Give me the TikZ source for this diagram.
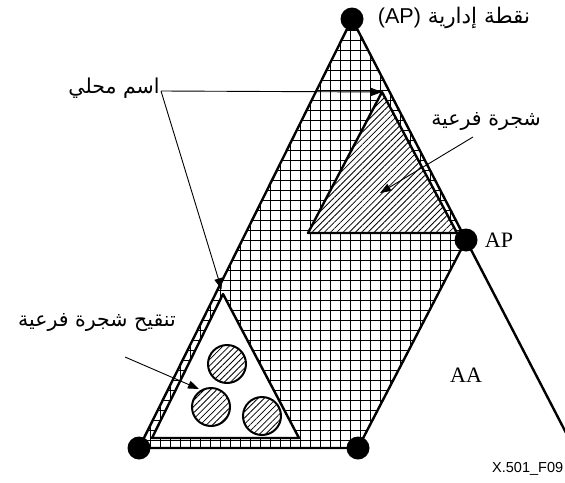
\documentclass[tikz,border=0pt]{standalone}
\usepackage{fontspec}
\setmainfont{Liberation Serif}
\newfontfamily\arabicfont[Script=Arabic]{DejaVu Sans}
\newfontfamily\sansf{Liberation Sans}
\TeXXeTstate=1
\usetikzlibrary{patterns.meta,arrows.meta}
\tikzset{
  thickline/.style={line width=2.4pt, line join=round},
  dotnode/.style={circle, fill=black, inner sep=0pt, minimum size=23pt},
  arr/.style={line width=0.9pt, -{Triangle[length=11pt,width=8pt]}},
  gridline/.style={line width=1.3pt},
  diag hatch/.style={pattern={Lines[angle=45,distance=4.4pt,line width=0.8pt]}},
  ring/.style={circle, draw, line width=2pt, minimum size=38pt, inner sep=0pt, diag hatch},
  albl/.style={inner sep=0pt, font=\arabicfont\fontsize{20.5}{24}\selectfont},
  serifl/.style={inner sep=0pt, font=\fontsize{22}{24}\selectfont},
}
\begin{document}
\begin{tikzpicture}[x=1pt,y=-1pt]
\useasboundingbox (0,0) rectangle (565,482);
% main points
\coordinate (T) at (352,19);
\coordinate (AP) at (466,240);
\coordinate (BR) at (358,448);
\coordinate (BL) at (139,448);
\coordinate (E) at (577,454);
% cross-hatched administrative area
\begin{scope}
  \clip (T) -- (AP) -- (BR) -- (BL) -- cycle;
  \foreach \i in {0,...,35} {
    \draw[gridline] ({130.5+10*\i},10) -- ({130.5+10*\i},460);
  }
  \foreach \i in {0,...,45} {
    \draw[gridline] (130,{10.5+10*\i}) -- (480,{10.5+10*\i});
  }
\end{scope}
% upper subtree
\coordinate (U1) at (382,92);
\coordinate (U2) at (308,233);
\coordinate (U3) at (457,233);
\fill[white] (U1) -- (U2) -- (U3) -- cycle;
\fill[diag hatch] (U1) -- (U2) -- (U3) -- cycle;
\draw[thickline] (U1) -- (U2) -- (U3) -- cycle;
% lower subtree refinement
\coordinate (L1) at (223,294);
\coordinate (L2) at (152,438);
\coordinate (L3) at (299,438);
\filldraw[thickline, fill=white] (L1) -- (L2) -- (L3) -- cycle;
\node[ring] (c1) at (227,364) {};
\node[ring] (c2) at (211,407) {};
\node[ring] (c3) at (262,416) {};
% outline
\draw[thickline] (T) -- (AP) -- (BR) -- (BL) -- cycle;
\draw[thickline] (AP) -- (E);
% dots
\node[dotnode] (dT) at (T) {};
\node[dotnode] (dAP) at (AP) {};
\node[dotnode] (dBR) at (BR) {};
\node[dotnode] (dBL) at (BL) {};
% labels
\node[inner sep=0pt, font=\arabicfont\fontsize{21.5}{24}\selectfont] (aplbl) at (454,18)
  {\beginR نقطة إدارية \beginL{\sansf (AP)}\endL\endR};
\node[serifl] (aplbl2) at (499,240) {AP};
\node[serifl] (aalbl) at (466,375) {AA};
\node[inner sep=0pt, anchor=west, font=\sansf\fontsize{14.5}{17}\selectfont] (fig) at (492,469) {X.501\_F09};
% local name
\node[albl] (lname) at (114,88) {\beginR اسم محلي\endR};
\coordinate (split) at (161,91);
\draw[arr] (split) -- (U1);
\draw[arr, shorten >=5pt] (split) -- (L1);
% subtree
\node[albl] (stl) at (486,121) {\beginR شجرة فرعية\endR};
\coordinate (s1) at (473,137);
\coordinate (st) at (380,193);
\draw[arr] (s1) -- (st);
% subtree refinement
\node[albl] (rl) at (97,322) {\beginR تنقيح شجرة فرعية\endR};
\coordinate (r1) at (125,357);
\coordinate (rt) at (199,389);
\draw[arr] (r1) -- (rt);
\end{tikzpicture}
\end{document}
